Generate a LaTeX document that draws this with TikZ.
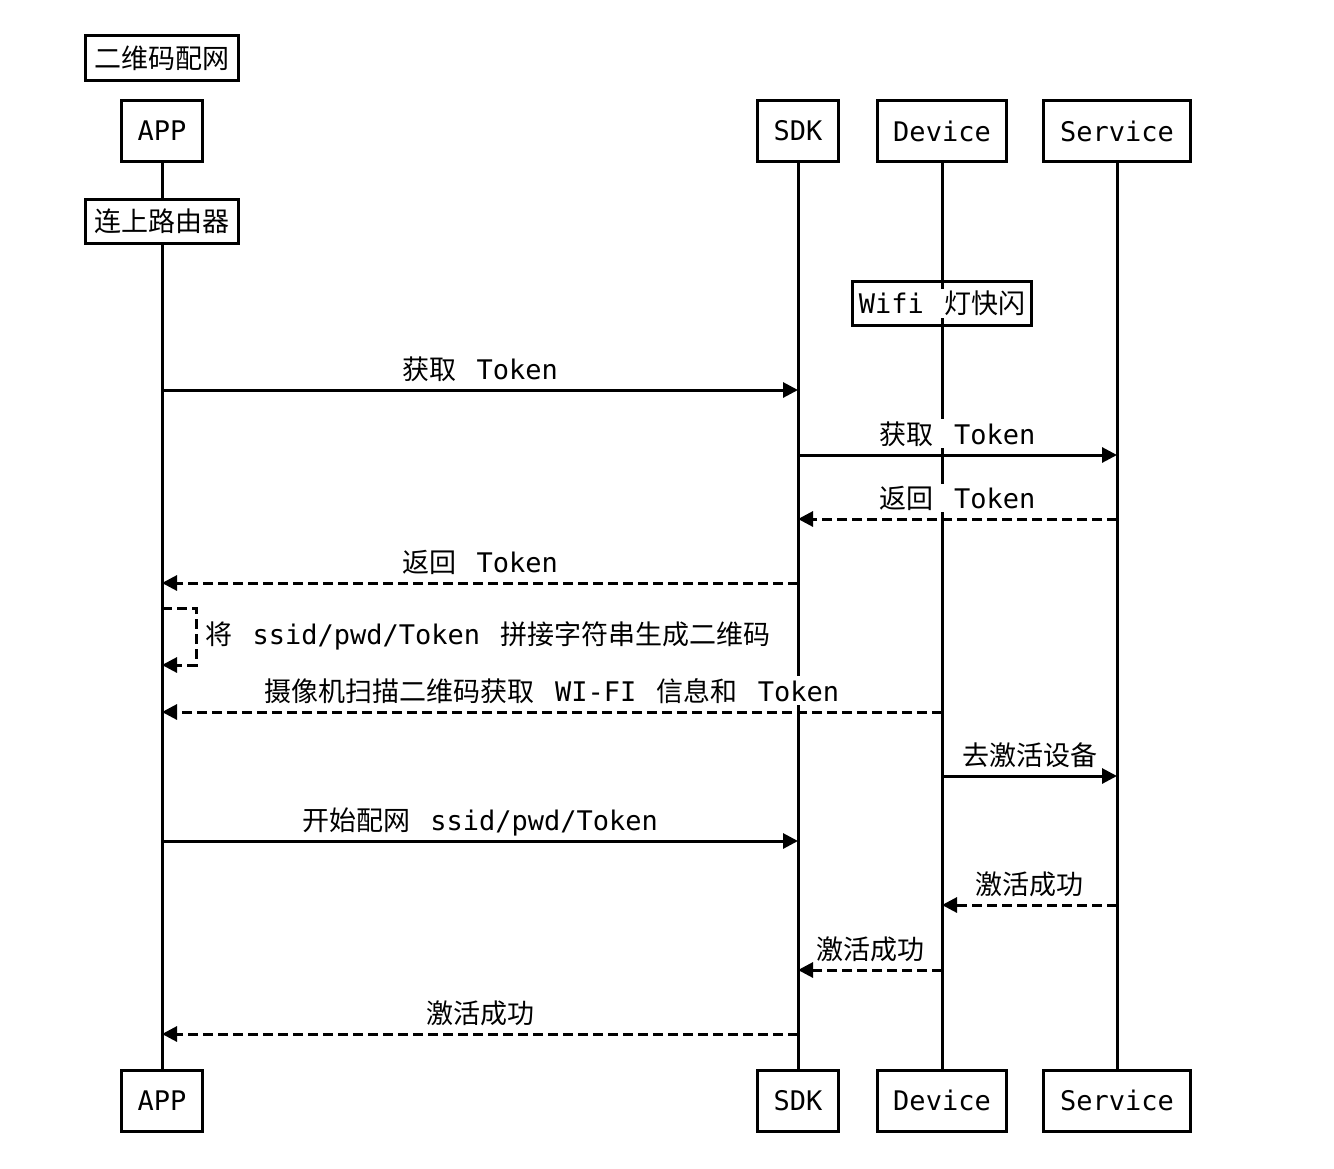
\documentclass[tikz,border=0pt]{standalone}
\usepackage{fontspec}
\setmainfont[WordSpace=1.25]{DejaVu Sans Mono}
\newfontfamily\cjk{Noto Sans CJK SC}
\usetikzlibrary{arrows.meta}
\newcommand{\zh}[1]{{\cjk #1}}
\begin{document}
\begin{tikzpicture}[x=1pt,y=-1pt,
  font=\fontsize{27}{31}\selectfont,
  box/.style={draw, line width=3pt, fill=white, inner sep=0pt},
  life/.style={line width=3pt},
  msg/.style={line width=3pt, -{Triangle[length=15pt,width=15pt]}},
  ret/.style={msg, dash pattern=on 10pt off 5pt},
  lbl/.style={fill=white, inner sep=2pt, anchor=base}]
\useasboundingbox (0,0) rectangle (1334,1168);

% participants
\node[box, minimum width=153pt, minimum height=45pt] (title) at (162,58) {\zh{二维码配网}};
\node[box, minimum width=81pt, minimum height=61pt] (appT) at (162,131) {APP};
\node[box, minimum width=81pt, minimum height=61pt] (sdkT) at (798,131) {SDK};
\node[box, minimum width=129pt, minimum height=61pt] (devT) at (942,131) {Device};
\node[box, minimum width=147pt, minimum height=61pt] (svcT) at (1117,131) {Service};
\node[box, minimum width=81pt, minimum height=61pt] (appB) at (162,1100.5) {APP};
\node[box, minimum width=81pt, minimum height=61pt] (sdkB) at (798,1100.5) {SDK};
\node[box, minimum width=129pt, minimum height=61pt] (devB) at (942,1100.5) {Device};
\node[box, minimum width=147pt, minimum height=61pt] (svcB) at (1117,1100.5) {Service};

% lifelines
\draw[life] (appT.south) -- (appB.north);
\draw[life] (sdkT.south) -- (sdkB.north);
\draw[life] (devT.south) -- (devB.north);
\draw[life] (svcT.south) -- (svcB.north);

% notes
\node[box, minimum width=153pt, minimum height=44pt] (router) at (162,221.5) {\zh{连上路由器}};
\node[box, fill=none, minimum width=179pt, minimum height=44pt] (wifi) at (942,303.5)
  {\setlength{\fboxsep}{2pt}\colorbox{white}{Wifi \zh{灯快闪}}};

% message end points
\coordinate (a1) at (162,390);  \coordinate (s1) at (798,390);
\coordinate (s2) at (798,455);  \coordinate (v2) at (1117,455);
\coordinate (v3) at (1117,519); \coordinate (s3) at (798,519);
\coordinate (s4) at (798,583);  \coordinate (a4) at (162,583);
\coordinate (a5) at (162,608);  \coordinate (c5a) at (196,608);
\coordinate (c5b) at (196,665); \coordinate (b5) at (162,665);
\coordinate (d6) at (942,712);  \coordinate (a6) at (162,712);
\coordinate (d7) at (942,776);  \coordinate (v7) at (1117,776);
\coordinate (a8) at (162,841);  \coordinate (s8) at (798,841);
\coordinate (v9) at (1117,905); \coordinate (d9) at (942,905);
\coordinate (d10) at (942,970); \coordinate (s10) at (798,970);
\coordinate (s11) at (798,1034);\coordinate (a11) at (162,1034);

% labels
\node[lbl] (l1) at (480,379) {\zh{获取} Token};
\node[lbl] (l2) at (957.5,444) {\zh{获取} Token};
\node[lbl] (l3) at (957.5,508) {\zh{返回} Token};
\node[lbl] (l4) at (480,572) {\zh{返回} Token};
\node[lbl, anchor=base west] (l5) at (203,644) {\zh{将} ssid/pwd/Token \zh{拼接字符串生成二维码}};
\node[lbl] (l6) at (552,701) {\zh{摄像机扫描二维码获取} WI-FI \zh{信息和} Token};
\node[lbl] (l7) at (1029.5,765) {\zh{去激活设备}};
\node[lbl] (l8) at (480,830) {\zh{开始配网} ssid/pwd/Token};
\node[lbl] (l9) at (1029.5,894) {\zh{激活成功}};
\node[lbl] (l10) at (870,959) {\zh{激活成功}};
\node[lbl] (l11) at (480,1023) {\zh{激活成功}};

% messages
\draw[msg] (a1) -- (s1);
\draw[msg] (s2) -- (v2);
\draw[ret] (v3) -- (s3);
\draw[ret] (s4) -- (a4);
\draw[ret] (a5) -- (c5a) -- (c5b) -- (b5);
\draw[ret] (d6) -- (a6);
\draw[msg] (d7) -- (v7);
\draw[msg] (a8) -- (s8);
\draw[ret] (v9) -- (d9);
\draw[ret] (d10) -- (s10);
\draw[ret] (s11) -- (a11);
\end{tikzpicture}
\end{document}
